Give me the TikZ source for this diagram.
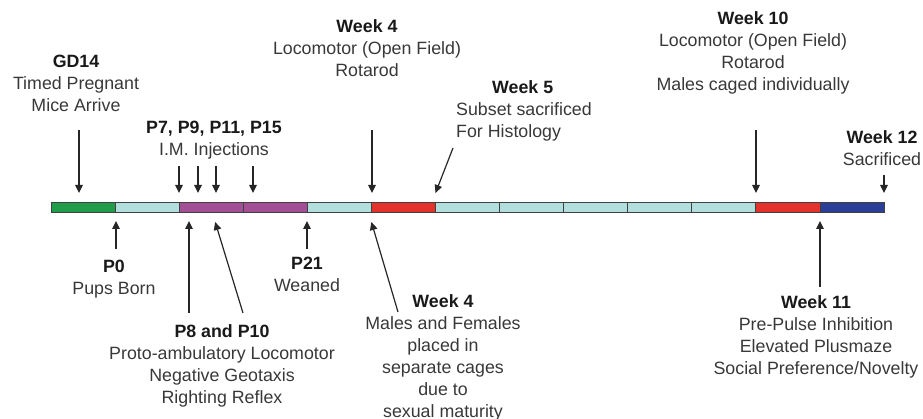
\documentclass[tikz,border=0pt]{standalone}
\usepackage{fontspec}
\setmainfont{Liberation Sans}
\usetikzlibrary{arrows.meta}
\definecolor{wkgreen}{HTML}{1F9D49}
\definecolor{wkcyan}{HTML}{B3DEDE}
\definecolor{wkpurple}{HTML}{A24F96}
\definecolor{wkred}{HTML}{E2322A}
\definecolor{wkblue}{HTML}{2B3F98}
\newcommand{\hd}[1]{\textcolor{black!90}{\textbf{#1}}}
\begin{document}
\begin{tikzpicture}[
  x=1pt, y=-1pt,
  seg/.style={draw=black!75, line width=0.8pt, minimum width=64.08pt, minimum height=10pt, inner sep=0pt, outer sep=0pt},
  lbl/.style={align=center, inner sep=0pt, text=black!78, font=\fontsize{17.8}{22}\selectfont},
  e/.style={line width=1.2pt, draw=black!85, -{Triangle[length=8pt,width=7.5pt]}}
]
\useasboundingbox (0,0) rectangle (923,419);

% timeline bar
\foreach \c [count=\i] in {wkgreen,wkcyan,wkpurple,wkpurple,wkcyan,wkred,wkcyan,wkcyan,wkcyan,wkcyan,wkcyan,wkred,wkblue}
  \node[seg, fill=\c, anchor=west] (s\i) at ({51+64.08*(\i-1)},207) {};

% labels above
\node[lbl, anchor=north] (gdlbl) at (76,55) {\hd{GD14}\\Timed Pregnant\\Mice Arrive};
\node[lbl, anchor=north] (injlbl) at (214,121) {\hd{P7, P9, P11, P15}\\I.M. Injections};
\node[lbl, anchor=north] (wk4lbl) at (367,19) {\hd{Week 4}\\Locomotor (Open Field)\\Rotarod};
\node[lbl, align=left, anchor=north west] (wk5lbl) at (456,80) {\hspace*{36pt}\hd{Week 5}\\Subset sacrificed\\For Histology};
\node[lbl, anchor=north] (wk10lbl) at (753,11) {\hd{Week 10}\\Locomotor (Open Field)\\Rotarod\\Males caged individually};
\node[lbl, anchor=north] (wk12lbl) at (882,130) {\hd{Week 12}\\Sacrificed};

% labels below
\node[lbl, anchor=north] (p0lbl) at (114,260) {\hd{P0}\\Pups Born};
\node[lbl, anchor=north] (p8lbl) at (222,324) {\hd{P8 and P10}\\Proto-ambulatory Locomotor\\Negative Geotaxis\\Righting Reflex};
\node[lbl, anchor=north] (p21lbl) at (307,257) {\hd{P21}\\Weaned};
\node[lbl, anchor=north] (wk4blbl) at (443,294) {\hd{Week 4}\\Males and Females\\placed in\\separate cages\\due to\\sexual maturity};
\node[lbl, anchor=north] (wk11lbl) at (816,295) {\hd{Week 11}\\Pre-Pulse Inhibition\\Elevated Plusmaze\\Social Preference/Novelty};

% arrow tails
\coordinate (gd14) at (79,130);
\coordinate (p7) at (179,166);
\coordinate (p9) at (198,166);
\coordinate (p11) at (216,166);
\coordinate (p15) at (253,166);
\coordinate (wk4) at (372,130);
\coordinate (wk5) at (453,148);
\coordinate (wk10) at (756,130);
\coordinate (wk12) at (884,175);
\coordinate (p0) at (116,249);
\coordinate (p8) at (189,313);
\coordinate (p10) at (243,313);
\coordinate (p21) at (307,249);
\coordinate (wk4b) at (398,312);
\coordinate (wk11) at (820,287);

% arrows to the bar
\foreach \t/\s in {gd14/1,p7/3,p9/3,p11/3,p15/4,wk4/6,wk10/12,wk12/13}
  \draw[e, shorten >=9pt] (\t) -- (\t |- s\s.north);
\foreach \t/\s in {p0/2,p8/3,p21/5,wk11/13}
  \draw[e, shorten >=9pt] (\t) -- (\t |- s\s.south);
\draw[e] (wk5) -- ([yshift=9pt]s7.north west);
\draw[e] (p10) -- ([xshift=36pt,yshift=-10pt]s3.south west);
\draw[e] (wk4b) -- ([yshift=-10pt]s6.south west);
\end{tikzpicture}
\end{document}
